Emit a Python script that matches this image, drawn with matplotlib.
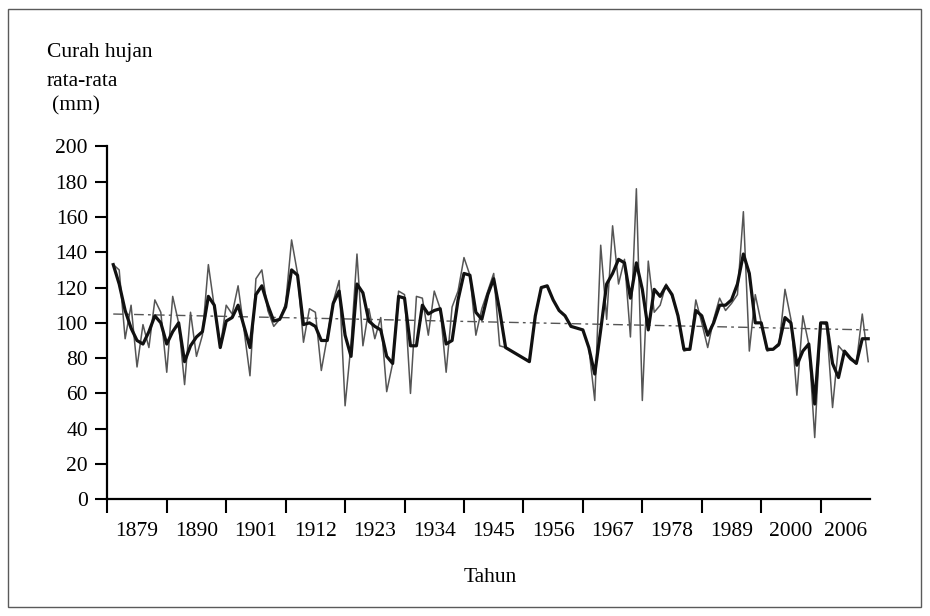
import matplotlib
matplotlib.use("Agg")
import matplotlib.pyplot as plt
from matplotlib.patches import Rectangle

# ---------------- data ----------------
years = list(range(1879, 2007))

annual = [133, 130, 91, 110, 75, 99, 86, 113, 106, 72,
          115, 100, 65, 106, 81, 93, 133, 109, 86, 110,
          105, 121, 96, 70, 125, 130, 107, 98, 102, 111,
          147, 128, 89, 108, 106, 73, 92, 112, 124, 53,
          88, 139, 87, 108, 91, 103, 61, 77, 118, 116,
          60, 115, 114, 93, 118, 108, 72, 109, 118, 137,
          127, 93, 108, 118, 128, 87, 86, 84, 82, 80,
          78, 104, 120, 121, 113, 107, 104, 98, 97, 96,
          86, 56, 144, 102, 155, 122, 136, 92, 176, 56,
          135, 106, 110, 122, 115, 104, 84, 85, 113, 100,
          86, 102, 114, 107, 111, 116, 163, 84, 116, 100,
          84, 85, 87, 119, 102, 59, 104, 88, 35, 100,
          99, 52, 87, 83, 79, 77, 105, 78]

smoothed = [133, 122, 107, 97, 90, 88, 95, 104, 100, 88,
            95, 100, 78, 87, 92, 95, 115, 110, 86, 101,
            103, 110, 98, 86, 116, 121, 110, 101, 102, 109,
            130, 127, 99, 100, 98, 90, 90, 111, 118, 93,
            81, 122, 117, 101, 98, 96, 81, 77, 115, 114,
            87, 87, 110, 105, 107, 108, 88, 90, 113, 128,
            127, 106, 102, 116, 125, 107, 86, 84, 82, 80,
            78, 104, 120, 121, 113, 107, 104, 98, 97, 96,
            86, 71, 96, 122, 128, 136, 134, 114, 134, 119,
            96, 119, 115, 121, 116, 104, 85, 85, 107, 104,
            93, 100, 110, 110, 113, 122, 139, 128, 100, 100,
            85, 85, 88, 103, 100, 76, 84, 88, 54, 100,
            100, 77, 69, 84, 80, 77, 91, 91]

trend_years = [1879, 2006]
trend_values = [105, 96]

y_ticks = [0, 20, 40, 60, 80, 100, 120, 140, 160, 180, 200]
x_tick_labels = ["1879", "1890", "1901", "1912", "1923", "1934", "1945",
                 "1956", "1967", "1978", "1989", "2000", "2006"]

# ---------------- style ----------------
plt.rcParams['font.family'] = ['Liberation Serif', 'DejaVu Serif']
FS = 15.5

W, H = 930, 616
fig = plt.figure(figsize=(W / 100, H / 100), dpi=100)
fig.patch.set_facecolor('white')

# outer frame
fig.patches.append(Rectangle((8 / W, 1 - 607 / H), 913 / W, 598 / H,
                             transform=fig.transFigure, fill=False,
                             edgecolor='#5a5a5a', linewidth=1.0))

ax_left, ax_right, ax_top, ax_bottom = 107.3, 870.0, 146.4, 499.3
ax = fig.add_axes([ax_left / W, 1 - ax_bottom / H,
                   (ax_right - ax_left) / W, (ax_bottom - ax_top) / H])

ax.plot(years, annual, color='#555555', linewidth=1.1, zorder=2)
ax.plot(years, smoothed, color='#111111', linewidth=2.3, zorder=3)
ax.plot(trend_years, trend_values, color='#555555', linewidth=1.0,
        dashes=(7, 3, 2, 3), zorder=1)

x0 = years[0] - 1
x_end = years[-1] + 0.3
ax.set_xlim(x0, x_end)
ax.set_ylim(y_ticks[0], y_ticks[-1])

for s in ['top', 'right']:
    ax.spines[s].set_visible(False)
for s in ['left', 'bottom']:
    ax.spines[s].set_linewidth(1.6)
    ax.spines[s].set_color('black')

ax.set_yticks(y_ticks)
ax.set_yticklabels([str(v) for v in y_ticks])
ax.tick_params(axis='y', which='major', length=9, width=1.5, pad=5,
               labelsize=FS, colors='black')

# major ticks every 10 points, labels centred in the intervals
major = [x0 + 10 * k for k in range(len(x_tick_labels))]
edges = major + [x_end]
centers = [(edges[i] + edges[i + 1]) / 2 for i in range(len(x_tick_labels))]
ax.set_xticks(major)
ax.set_xticklabels([])
ax.set_xticks(centers, minor=True)
ax.set_xticklabels(x_tick_labels, minor=True)
ax.tick_params(axis='x', which='major', length=10, width=1.5, colors='black')
ax.tick_params(axis='x', which='minor', length=0, pad=16, labelsize=FS)

fig.text(47 / W, 1 - 53 / H, "Curah hujan", fontsize=FS, va='center', ha='left')
fig.text(47 / W, 1 - 81 / H, "rata-rata", fontsize=FS, va='center', ha='left')
fig.text(52 / W, 1 - 106 / H, "(mm)", fontsize=FS, va='center', ha='left')
fig.text(490 / W, 1 - 577 / H, "Tahun", fontsize=FS, va='center', ha='center')

fig.savefig("out.png", dpi=100)
